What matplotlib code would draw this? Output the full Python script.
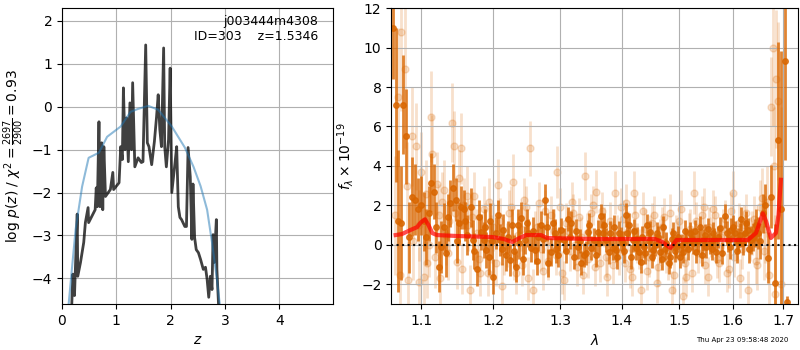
import numpy as np
import matplotlib
matplotlib.use("Agg")
import matplotlib.pyplot as plt
from matplotlib.ticker import ScalarFormatter, NullLocator

# --- p(z) panel ---
z_pz = [0.18, 0.20, 0.23, 0.28, 0.29, 0.34, 0.40, 0.43, 0.48, 0.49, 0.55, 0.61, 0.63, 0.65,
        0.68, 0.70, 0.73, 0.75, 0.77, 0.80, 0.89, 0.935, 0.95, 1.05, 1.08, 1.11, 1.13, 1.16,
        1.19, 1.22, 1.25, 1.28, 1.30, 1.34, 1.40, 1.46, 1.49, 1.54, 1.57, 1.60, 1.65, 1.70,
        1.74, 1.77, 1.80, 1.83, 1.87, 1.89, 1.92, 1.96, 1.99, 2.02, 2.08, 2.11, 2.14, 2.17,
        2.20, 2.26, 2.29, 2.32, 2.36, 2.39, 2.41, 2.44, 2.47, 2.51, 2.55, 2.60, 2.64, 2.67,
        2.70, 2.73, 2.76, 2.78, 2.80, 2.84, 2.85, 2.88, 2.90]
logpz = [-4.6, -3.9, -4.4, -2.5, -3.95, -3.63, -3.16, -2.70, -2.35, -2.70, -2.55, -2.40, -1.89, -2.33,
         -0.35, -2.33, -0.84, -2.40, -0.93, -2.09, -1.93, -1.53, -1.93, -1.77, -0.93, -1.23, 0.44, -1.00,
         -0.26, -1.28, 0.09, -1.00, 0.56, -1.40, -1.19, -1.30, -1.28, 1.44, -0.84, -0.93, -1.35, -0.81,
         -0.23, 0.28, -0.53, -0.93, 1.37, -0.93, -1.40, -0.77, 0.90, -2.00, -1.30, -0.93, -2.33, -2.58,
         -2.63, -2.79, -2.79, -0.95, -1.63, -3.09, -1.80, -3.05, -3.33, -3.40, -3.56, -3.79, -3.74, -4.02,
         -4.44, -3.95, -4.26, -2.98, -3.63, -2.63, -3.79, -4.6, -5.0]

z_prior = [0.10, 0.25, 0.37, 0.49, 0.68, 0.83, 1.08, 1.26, 1.40, 1.59, 1.77, 2.02, 2.26, 2.42,
           2.55, 2.67, 2.76, 2.85, 2.93]
logprior = [-4.9, -2.86, -1.86, -1.19, -1.07, -0.70, -0.46, -0.12, -0.05, 0.02, -0.07, -0.46, -0.95, -1.40,
            -1.85, -2.40, -3.16, -4.02, -4.9]

# --- 1D spectrum panel: binned points, first set ---
wave_d = [1.0638, 1.0676, 1.0702, 1.0740, 1.0766, 1.0805, 1.0843, 1.0882, 1.0921, 1.0961, 1.1039, 1.1066,
          1.1132, 1.1172, 1.1239, 1.1266, 1.1306, 1.1360, 1.1428, 1.1469, 1.1510, 1.1537, 1.1579, 1.1620,
          1.1675, 1.1703, 1.1759, 1.1815, 1.1858, 1.1900, 1.1957, 1.2000, 1.2043, 1.2100, 1.2144, 1.2187,
          1.2245, 1.2275, 1.2333, 1.2363, 1.2407, 1.2466, 1.2510, 1.2555, 1.2615, 1.2661, 1.2706, 1.2767,
          1.2813, 1.2859, 1.2921, 1.2967, 1.3014, 1.3061, 1.3123, 1.3170, 1.3218, 1.3281, 1.3329, 1.3377,
          1.3441, 1.3489, 1.3537, 1.3602, 1.3651, 1.3683, 1.3733, 1.3782, 1.3848, 1.3898, 1.3948, 1.4015,
          1.4065, 1.4116, 1.4184, 1.4235, 1.4286, 1.4320, 1.4372, 1.4423, 1.4492, 1.4544, 1.4597, 1.4667,
          1.4719, 1.4772, 1.4843, 1.4896, 1.4950, 1.5021, 1.5075, 1.5129, 1.5202, 1.5257, 1.5311, 1.5385,
          1.5440, 1.5496, 1.5570, 1.5626, 1.5682, 1.5757, 1.5851, 1.5908, 1.5965, 1.6041, 1.6099, 1.6157,
          1.6234, 1.6292, 1.6351, 1.6429, 1.6488, 1.6587, 1.6687, 1.6747, 1.6827, 1.6888, 1.6949, 1.7030,
          1.7071]
flux_d = [11.0, 7.07, 1.2, 1.1, 7.1, 5.5, 0.4, 2.45, 2.3, 1.8, 1.2, 0.4,
          3.15, 2.7, -1.1, -0.1, 0.9, 1.4, 2.9, 2.3, 1.1, 1.9, 1.8, 0.5,
          1.9, 0.25, -1.2, 0.65, 0.25, -0.25, 1.2, -1.6, 0.6, 0.25, 0.75, -0.5,
          -0.75, 1.0, -1.1, 1.0, 1.35, 0.25, 0.6, -0.15, -0.25, 0.4, 1.0, 2.3,
          -0.9, -0.35, 0.6, -0.5, 0.75, 0.25, 1.3, 1.1, -0.6, -0.1, -0.9, -0.5,
          0.65, -0.15, 0.25, 0.65, 1.45, 0.6, 0.25, -0.35, -0.15, -0.25, 0.6, 0.1,
          1.5, 1.0, 0.25, -0.15, -0.35, -0.85, -0.1, 1.0, 0.65, -0.25, 0.6, -0.35,
          0.9, 0.1, -0.6, 0.6, -0.1, -0.6, -0.35, 0.25, 0.6, 0.1, -0.35, 0.9,
          0.25, -0.1, 0.1, 0.6, -0.35, 0.85, 1.45, 0.25, 0.75, 0.6, 0.25, 1.3,
          0.6, 0.75, 0.25, 0.6, 0.6, 1.6, -0.65, 2.45, -1.95, 5.3, 1.8, 9.3,
          -2.9]
err_d = [2.6, 3.9, 3.6, 2.9, 2.5, 2.4, 1.8, 2.0, 1.8, 1.6, 1.5, 1.4,
         1.5, 1.4, 1.3, 1.3, 1.2, 1.2, 1.2, 1.1, 1.1, 1.1, 1.0, 1.0,
         1.0, 1.0, 0.9, 0.9, 0.9, 0.9, 0.9, 0.9, 0.8, 0.8, 0.8, 0.8,
         0.8, 0.8, 0.8, 0.8, 0.8, 0.7, 0.7, 0.7, 0.7, 0.7, 0.7, 0.8,
         0.7, 0.7, 0.7, 0.6, 0.6, 0.6, 0.6, 0.6, 0.6, 0.6, 0.6, 0.6,
         0.6, 0.6, 0.6, 0.6, 0.6, 0.6, 0.6, 0.6, 0.6, 0.6, 0.6, 0.6,
         0.6, 0.6, 0.6, 0.6, 0.6, 0.55, 0.55, 0.55, 0.55, 0.55, 0.55, 0.55,
         0.55, 0.55, 0.55, 0.55, 0.55, 0.55, 0.55, 0.55, 0.55, 0.55, 0.55, 0.55,
         0.55, 0.55, 0.55, 0.55, 0.55, 0.55, 0.6, 0.6, 0.6, 0.6, 0.6, 0.6,
         0.6, 0.6, 0.7, 0.7, 0.8, 1.0, 1.3, 1.6, 3.0, 5.0, 8.0, 5.0,
         0.3]

# binned points, second set
wave_d2 = [1.100, 1.110, 1.120, 1.133, 1.139, 1.149, 1.160, 1.173, 1.179, 1.188, 1.193, 1.198,
           1.207, 1.212, 1.221, 1.230, 1.238, 1.244, 1.249, 1.258, 1.264, 1.274, 1.279, 1.289,
           1.294, 1.299, 1.309, 1.315, 1.325, 1.331, 1.341, 1.346, 1.357, 1.363, 1.371, 1.381,
           1.387, 1.392, 1.398, 1.404, 1.409, 1.415, 1.421, 1.426, 1.435, 1.440, 1.446, 1.452,
           1.457, 1.463, 1.469, 1.475, 1.481, 1.487, 1.492, 1.498, 1.505, 1.510, 1.516, 1.523,
           1.528, 1.534, 1.541, 1.547, 1.553, 1.560, 1.565, 1.571, 1.579, 1.588, 1.594, 1.601,
           1.607, 1.613, 1.620, 1.626, 1.632, 1.639, 1.646, 1.653, 1.663]
flux_d2 = [2.0, 1.6, 0.9, -0.4, 2.1, 0.2, 1.2, -0.3, 1.4, 0.9, -0.6, 0.2,
           1.5, -0.2, 0.4, -0.3, 0.1, -0.7, 1.1, 0.7, -0.8, 0.3, 0.9, 1.1,
           -0.2, 0.3, -0.3, 0.4, 0.7, 0.2, -0.4, 1.0, -0.5, 0.1, 1.0, 0.6,
           0.9, -0.6, 0.3, -0.3, 0.6, -0.6, 0.7, 0.3, 0.4, -0.4, 0.2, -0.6,
           0.0, 0.4, -0.7, -0.2, -0.9, 0.3, -0.3, 0.4, 0.0, 0.7, -0.2, 0.3,
           0.7, 0.2, -0.5, 0.5, 0.8, -0.2, 0.3, 0.4, -0.4, 0.6, -0.1, 0.9,
           -0.3, 0.5, 0.1, 1.1, -0.2, 0.4, 1.0, 0.2, 2.0]
err_d2 = [1.5, 1.4, 1.3, 1.2, 1.2, 1.1, 1.0, 0.9, 0.9, 0.9, 0.9, 0.9,
          0.8, 0.8, 0.8, 0.8, 0.8, 0.8, 0.7, 0.7, 0.7, 0.7, 0.7, 0.7,
          0.7, 0.6, 0.6, 0.6, 0.6, 0.6, 0.6, 0.6, 0.6, 0.6, 0.6, 0.6,
          0.6, 0.6, 0.6, 0.6, 0.6, 0.6, 0.6, 0.6, 0.55, 0.55, 0.55, 0.55,
          0.55, 0.55, 0.55, 0.55, 0.55, 0.55, 0.55, 0.55, 0.55, 0.55, 0.55, 0.55,
          0.55, 0.55, 0.55, 0.55, 0.55, 0.55, 0.55, 0.55, 0.55, 0.6, 0.6, 0.6,
          0.6, 0.6, 0.6, 0.6, 0.7, 0.7, 0.8, 0.9, 1.1]

# unbinned points, first set
wave_l = [1.066, 1.070, 1.074, 1.079, 1.083, 1.088, 1.093, 1.098, 1.100, 1.104, 1.108, 1.113,
          1.115, 1.119, 1.124, 1.128, 1.133, 1.138, 1.142, 1.144, 1.148, 1.154, 1.158, 1.162,
          1.166, 1.170, 1.176, 1.181, 1.186, 1.192, 1.196, 1.200, 1.206, 1.212, 1.216, 1.222,
          1.228, 1.230, 1.236, 1.242, 1.248, 1.254, 1.258, 1.264, 1.270, 1.276, 1.282, 1.290,
          1.296, 1.303, 1.309, 1.315, 1.321, 1.327, 1.333, 1.339, 1.345, 1.352, 1.358, 1.364,
          1.370, 1.376, 1.383, 1.389, 1.396, 1.402, 1.408, 1.414, 1.420, 1.426, 1.433, 1.440,
          1.446, 1.452, 1.460, 1.466, 1.473, 1.480, 1.487, 1.494, 1.500, 1.507, 1.513, 1.520,
          1.527, 1.534, 1.541, 1.548, 1.555, 1.562, 1.570, 1.577, 1.584, 1.592, 1.600, 1.607,
          1.614, 1.622, 1.630, 1.637, 1.645, 1.652, 1.660, 1.667, 1.675, 1.680, 1.685, 1.690,
          1.695]
flux_l = [1.5, 7.5, 10.8, 8.9, -1.8, 5.5, 5.0, 1.0, 3.7, -1.6, -0.9, 6.5,
          4.6, -0.6, 1.5, 2.2, 0.5, 1.2, 6.2, 5.0, -0.85, 4.9, 2.0, 2.5,
          -2.3, 1.4, 0.6, -1.4, 1.8, -1.4, 0.3, 0.9, 3.05, -2.1, -0.3, 1.6,
          3.2, -0.6, 0.5, -1.0, 1.9, 4.9, -2.3, 0.9, -0.2, 1.7, -0.8, 0.7,
          3.7, -1.4, 1.1, -0.3, 1.6, -1.1, 0.4, 3.5, -0.7, 2.0, 2.7, -0.9,
          0.9, -1.6, 0.2, 2.65, -0.5, 1.3, 2.1, -1.2, 2.65, 0.1, -2.3, 0.8,
          -0.6, 1.1, -1.95, 0.3, 1.4, -0.8, -2.3, 0.5, 1.2, -2.6, -1.6, 0.8,
          2.65, -0.4, 1.5, -1.0, 0.9, 1.8, -0.7, 0.4, 1.3, -1.2, 2.65, 0.2,
          -1.7, 1.0, -2.3, 0.6, -0.8, 1.9, -0.3, 2.2, 7.0, 4.0, 8.4, 7.3,
          -2.0]
err_l = [3.0, 3.5, 4.0, 4.0, 2.0, 2.5, 2.2, 1.8, 2.0, 1.8, 1.8, 2.3,
         2.0, 1.6, 1.6, 1.5, 1.5, 1.5, 2.0, 1.8, 1.4, 1.8, 1.4, 1.5,
         1.3, 1.3, 1.2, 1.2, 1.2, 1.2, 1.2, 1.2, 1.3, 1.2, 1.2, 1.2,
         1.4, 1.2, 1.1, 1.1, 1.1, 1.4, 1.1, 1.1, 1.1, 1.1, 1.0, 1.1,
         1.3, 1.1, 1.0, 1.0, 1.0, 1.0, 1.0, 1.2, 1.0, 1.0, 1.1, 1.0,
         1.0, 1.0, 1.0, 1.1, 1.0, 1.0, 1.0, 1.0, 1.1, 1.0, 1.0, 1.0,
         1.0, 1.0, 1.0, 1.0, 1.0, 1.0, 1.0, 1.0, 1.0, 1.0, 1.0, 1.0,
         1.1, 1.0, 1.0, 1.0, 1.0, 1.0, 1.0, 1.0, 1.0, 1.0, 1.1, 1.0,
         1.0, 1.0, 1.0, 1.1, 1.2, 1.4, 1.5, 1.8, 2.5, 3.0, 3.5, 4.0,
         9.0]

# unbinned points, second set
wave_l2 = [1.072, 1.081, 1.090, 1.097, 1.106, 1.111, 1.121, 1.126, 1.131, 1.136, 1.146, 1.151,
           1.156, 1.164, 1.172, 1.179, 1.188, 1.194, 1.203, 1.209, 1.219, 1.225, 1.233, 1.240,
           1.245, 1.251, 1.261, 1.267, 1.273, 1.279, 1.286, 1.293, 1.300, 1.306, 1.312, 1.318,
           1.324, 1.330, 1.336, 1.342, 1.349, 1.355, 1.361, 1.367, 1.373, 1.380, 1.386, 1.392,
           1.399, 1.405, 1.411, 1.417, 1.423, 1.430, 1.436, 1.443, 1.449, 1.456, 1.463, 1.470,
           1.477, 1.483, 1.490, 1.497, 1.504, 1.510, 1.517, 1.524, 1.531, 1.538, 1.545, 1.552,
           1.559, 1.566, 1.573, 1.581, 1.588, 1.596, 1.603, 1.611, 1.618, 1.626, 1.633, 1.641,
           1.648, 1.656, 1.663, 1.671, 1.678, 1.683]
flux_l2 = [-1.5, 3.0, 0.2, -1.9, 2.6, 0.0, 3.1, -1.7, 2.8, -0.4, 1.6, 3.4,
           -1.2, 1.0, 2.5, -0.7, 0.9, 2.2, -0.9, 1.2, 0.0, 1.9, -1.4, 0.8,
           2.3, -1.7, 0.6, 2.1, -1.3, 0.2, 1.5, -0.5, 1.9, -1.8, 0.7, 2.2,
           0.0, 1.4, -1.5, 0.6, 1.6, -1.1, 0.4, 1.7, -0.6, 1.2, -1.0, 0.5,
           1.9, -0.9, 0.7, -1.6, 1.5, -0.2, 1.7, -1.3, 0.5, 1.5, -1.1, 0.9,
           -0.4, 1.6, -1.5, 0.2, 1.8, -0.9, 0.6, -1.4, 1.2, 0.1, 1.9, -1.6,
           0.4, 1.5, -0.9, 0.8, -1.4, 1.7, -0.6, 1.1, -0.2, 1.6, 0.3, 1.3,
           -1.0, 2.4, 0.8, -1.5, 10.0, -2.5]
err_l2 = [2.5, 2.2, 2.0, 1.8, 1.7, 1.6, 1.6, 1.5, 1.5, 1.4, 1.4, 1.4,
          1.3, 1.3, 1.2, 1.2, 1.2, 1.2, 1.2, 1.2, 1.1, 1.1, 1.1, 1.1,
          1.1, 1.1, 1.1, 1.1, 1.0, 1.0, 1.0, 1.0, 1.0, 1.0, 1.0, 1.0,
          1.0, 1.0, 1.0, 1.0, 1.0, 1.0, 1.0, 1.0, 1.0, 1.0, 1.0, 1.0,
          1.0, 1.0, 1.0, 1.0, 1.0, 1.0, 1.0, 1.0, 1.0, 1.0, 1.0, 1.0,
          1.0, 1.0, 1.0, 1.0, 1.0, 1.0, 1.0, 1.0, 1.0, 1.0, 1.0, 1.0,
          1.0, 1.0, 1.0, 1.0, 1.0, 1.0, 1.0, 1.0, 1.0, 1.0, 1.1, 1.2,
          1.3, 1.5, 1.7, 2.0, 4.0, 4.0]

# best-fit model
wave_m = [1.067, 1.075, 1.0857, 1.0948, 1.100, 1.1053, 1.110, 1.115, 1.1212, 1.150, 1.1986, 1.215,
          1.2275, 1.238, 1.2481, 1.2706, 1.2798, 1.350, 1.4571, 1.470, 1.4843, 1.490, 1.4950, 1.6292,
          1.645, 1.6587, 1.665, 1.6747, 1.6848, 1.690, 1.6949]
flux_m = [0.5, 0.55, 0.75, 0.9, 1.15, 1.3, 1.0, 0.6, 0.5, 0.45, 0.4, 0.3,
          0.15, 0.35, 0.5, 0.5, 0.35, 0.3, 0.3, 0.15, -0.15, 0.05, 0.25, 0.25,
          0.6, 1.6, 1.2, 0.35, 0.6, 1.5, 3.3]

wave_ticks = [1.1, 1.2, 1.3, 1.4, 1.5, 1.6, 1.7]
ORANGE = (0.85, 0.4, 0.0)

fig = plt.figure(figsize=(8, 3.5), dpi=100)

ax = fig.add_axes([0.0775, 0.131, 0.339, 0.846])
ax.plot(z_pz, logpz, color='k', alpha=0.75, lw=2)
ax.plot(z_prior, logprior, color='tab:blue', alpha=0.5, lw=1.5)
ax.set_xlim(0, 4.99)
ax.set_ylim(-4.6, 2.3)
ax.set_xticks([0, 1, 2, 3, 4])
ax.set_xlabel(r'$z$')
ax.set_ylabel(r'log $p(z)$ / $\chi^2=\frac{2697}{2900}=0.93$')
ax.grid()
ax.text(0.945, 0.975, 'j003444m4308\nID=303    z=1.5346', ha='right', va='top',
        transform=ax.transAxes, fontsize=9)

ax2 = fig.add_axes([0.489, 0.131, 0.509, 0.846])
for w, f, e in [(wave_l, flux_l, err_l), (wave_l2, flux_l2, err_l2)]:
    ax2.errorbar(w, f, yerr=e, color=ORANGE, alpha=0.2, marker='o', ms=5,
                 linestyle='None', elinewidth=2, zorder=1)
for w, f, e in [(wave_d, flux_d, err_d), (wave_d2, flux_d2, err_d2)]:
    ax2.errorbar(w, f, yerr=e, color=ORANGE, alpha=0.8, marker='o', ms=4,
                 linestyle='None', elinewidth=2, zorder=2)
ax2.plot(wave_m, flux_m, color='r', alpha=0.7, lw=3, zorder=3)
ax2.axhline(0, color='k', linestyle=':', lw=1.5, alpha=0.9, zorder=4)
ax2.set_xscale('log')
ax2.set_xlim(1.0613, 1.731)
ax2.set_ylim(-3, 12)
ax2.set_xticks(wave_ticks)
ax2.xaxis.set_major_formatter(ScalarFormatter())
ax2.xaxis.set_minor_locator(NullLocator())
ax2.set_xlabel(r'$\lambda$')
ax2.set_ylabel(r'$f_\lambda \times 10^{-19}$')
ax2.grid()

fig.text(0.985, 0.02, 'Thu Apr 23 09:58:48 2020', ha='right', va='bottom', fontsize=5)

fig.savefig('out.png', dpi=100)
